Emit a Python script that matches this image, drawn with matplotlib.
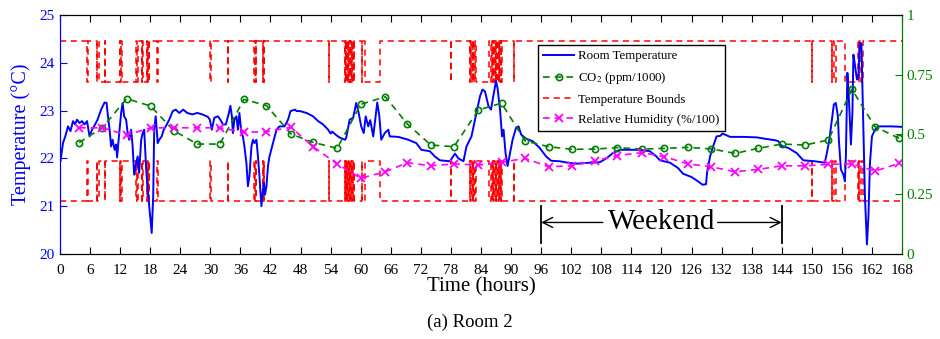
import matplotlib
matplotlib.use("Agg")
import matplotlib.pyplot as plt
from matplotlib.lines import Line2D

# Room temperature (hours, deg C)
temp_t = [0.0, 0.1, 0.6, 1.06, 1.6, 2.1, 2.6, 3.0, 3.4, 3.9, 4.4, 4.9, 5.4, 5.9, 6.4, 7.0, 7.5, 8.2,
          8.9, 9.3, 9.5, 9.9, 10.2, 10.5, 10.9, 11.2, 11.4, 11.7, 12.2, 12.5, 12.8, 13.2, 13.5, 13.8,
          14.2, 14.5, 14.8, 15.2, 15.5, 15.8, 16.2, 16.5, 16.8, 17.2, 17.5, 18.0, 18.3, 18.6, 18.8,
          19.1, 19.5, 19.8, 20.3, 20.7, 21.1, 21.8, 22.5, 23.1, 23.8, 24.6, 25.4, 26.4, 27.4, 28.4,
          29.5, 29.9, 30.3, 30.8, 31.5, 32.0, 32.5, 33.1, 33.7, 34.0, 34.3, 34.5, 34.8, 35.2, 35.5,
          35.8, 36.2, 36.5, 36.8, 37.2, 37.5, 37.8, 38.2, 38.5, 38.8, 39.2, 39.5, 39.8, 40.0, 40.2,
          40.5, 40.7, 40.9, 41.2, 41.5, 41.8, 42.5, 43.2, 43.8, 44.8, 45.5, 46.0, 46.9, 47.2, 47.9,
          49.2, 50.5, 51.5, 52.5, 53.5, 54.0, 54.3, 55.2, 55.9, 56.9, 57.1, 57.8, 58.5, 59.1, 59.5,
          60.1, 60.6, 61.0, 61.5, 61.9, 62.5, 63.0, 63.3, 63.7, 64.1, 64.8, 65.5, 65.8, 67.5, 69.5,
          71.1, 72.1, 73.8, 74.8, 75.8, 77.8, 78.8, 79.5, 80.5, 81.1, 82.1, 82.8, 83.8, 84.3, 84.8,
          85.5, 86.0, 86.5, 87.0, 87.3, 87.8, 88.2, 88.5, 88.9, 89.3, 89.8, 90.3, 91.0, 91.5, 92.0,
          93.0, 94.3, 95.7, 97.0, 98.0, 99.7, 101.3, 103.0, 105.7, 107.7, 109.0, 110.3, 111.7,
          115.7, 117.7, 119.0, 119.7, 121.7, 123.3, 124.3, 126.0, 127.3, 128.2, 128.9, 129.1,
          129.7, 130.3, 131.0, 131.7, 132.2, 133.7, 136.3, 139.0, 140.7, 142.7, 143.3, 144.0,
          145.3, 147.0, 148.3, 150.6, 152.6, 153.0, 153.5, 154.0, 154.4, 154.8, 155.2, 155.4,
          155.8, 156.3, 156.6, 156.8, 157.1, 157.3, 157.5, 157.8, 158.1, 158.3, 158.6, 159.0,
          159.3, 159.6, 159.9, 160.3, 160.6, 161.0, 161.3, 161.6, 162.0, 162.6, 163.3, 165.9, 167.9]
temp_val = [21.95, 21.94, 22.32, 22.46, 22.67, 22.57, 22.78, 22.71, 22.81, 22.74, 22.78, 22.71, 22.78,
            22.46, 22.6, 22.71, 22.81, 23.02, 23.17, 23.16, 22.95, 22.6, 22.25, 22.39, 22.18, 22.29,
            22.02, 22.39, 22.95, 23.16, 22.88, 22.81, 22.53, 22.39, 22.6, 22.25, 21.66, 21.9, 22.04,
            21.7, 22.39, 22.53, 22.6, 21.77, 21.35, 20.79, 20.44, 21.21, 22.6, 22.88, 22.32, 22.39,
            22.46, 22.6, 22.67, 22.81, 22.99, 23.02, 22.95, 23.02, 22.95, 22.92, 22.95, 22.92, 22.87,
            22.81, 22.6, 22.85, 22.88, 22.81, 22.71, 22.71, 22.95, 23.1, 22.88, 22.53, 22.81, 22.88,
            22.6, 22.95, 22.53, 22.46, 22.25, 21.9, 21.42, 21.63, 22.25, 22.39, 22.32, 22.39, 22.04,
            21.63, 21.28, 21.0, 21.35, 21.49, 21.24, 21.42, 21.84, 22.04, 22.32, 22.6, 22.67, 22.67,
            22.81, 22.99, 23.02, 22.99, 22.99, 22.95, 22.88, 22.78, 22.71, 22.6, 22.52, 22.56, 22.48,
            22.43, 22.39, 22.43, 22.81, 22.85, 23.16, 23.0, 22.67, 22.53, 22.88, 22.67, 22.8, 22.46,
            22.9, 23.17, 22.9, 22.39, 22.53, 22.6, 22.46, 22.45, 22.39, 22.32, 22.18, 22.15, 22.04,
            21.96, 21.94, 22.1, 22.0, 21.94, 22.25, 22.46, 22.81, 23.3, 23.44, 23.4, 23.09, 23.02,
            23.33, 23.62, 23.47, 23.02, 22.46, 22.6, 22.11, 21.84, 22.11, 22.39, 22.64, 22.67, 22.5,
            22.41, 22.36, 22.22, 22.04, 21.95, 21.94, 21.91, 21.89, 21.91, 21.92, 22.0, 22.11, 22.18,
            22.18, 22.15, 22.04, 21.96, 21.91, 21.8, 21.68, 21.61, 21.52, 21.45, 21.46, 21.7, 22.04,
            22.25, 22.46, 22.47, 22.52, 22.45, 22.45, 22.44, 22.41, 22.38, 22.36, 22.26, 22.22, 22.11,
            21.96, 21.94, 21.91, 22.11, 22.39, 22.81, 23.13, 23.16, 22.88, 22.39, 21.77, 21.66, 21.52,
            22.04, 23.79, 23.44, 23.02, 22.29, 22.95, 24.17, 23.96, 23.65, 23.72, 24.42, 24.4, 22.6,
            21.21, 20.2, 20.79, 21.9, 22.46, 22.6, 22.67, 22.67, 22.66]

# comfort bounds: wide when unoccupied, narrow while occupied
bound_wide = (21.1, 24.45)
bound_narrow = (21.95, 23.6)
narrow_periods = [(5.45, 5.55), (7.3, 7.4), (7.85, 8.95), (9.05, 11.95), (12.05, 12.15), (12.45, 15.2),
                  (15.4, 15.5), (16.3, 16.4), (16.5, 17.3), (17.45, 17.55), (17.7, 17.8), (19.45, 19.55),
                  (29.95, 30.05), (33.45, 33.55), (38.8, 38.9), (39.1, 39.2), (40.5, 40.6), (40.7, 40.8),
                  (53.6, 53.7), (56.8, 56.9), (57.0, 57.15), (57.3, 57.4), (57.55, 57.7), (57.85, 57.95),
                  (58.1, 58.2), (58.35, 58.5), (58.65, 58.75), (60.2, 60.3), (60.8, 63.8),
                  (77.95, 78.05), (81.8, 81.9), (82.1, 82.2), (82.4, 82.5), (82.7, 82.8), (83.1, 85.6),
                  (86.0, 86.1), (86.3, 86.4), (86.6, 86.7), (86.9, 87.0), (87.2, 87.3), (87.5, 87.6),
                  (87.8, 87.9), (88.05, 88.15), (90.5, 90.6),
                  (149.95, 150.05), (153.95, 154.1), (154.5, 154.9), (156.6, 159.2), (159.35, 159.5),
                  (159.9, 160.2)]

# CO2 (ppm/1000) and relative humidity (%/100), same sample times
sample_t = [3.8, 8.45, 13.3, 18.1, 22.7, 27.4, 31.9, 36.7, 41.2, 46.1, 50.5, 55.3, 60.0, 64.9, 69.3,
            74.0, 78.6, 83.5, 88.1, 92.8, 97.5, 102.1, 106.7, 111.2, 116.1, 120.6, 125.3, 129.9,
            134.7, 139.3, 144.0, 148.7, 153.3, 158.0, 162.6, 167.4]
co2 = [0.466, 0.528, 0.65, 0.619, 0.516, 0.46, 0.46, 0.647, 0.621, 0.502, 0.467, 0.442, 0.626, 0.658,
       0.544, 0.456, 0.449, 0.603, 0.631, 0.473, 0.449, 0.438, 0.439, 0.445, 0.439, 0.442, 0.446,
       0.44, 0.421, 0.442, 0.46, 0.456, 0.477, 0.689, 0.533, 0.484]
rh = [0.528, 0.528, 0.498, 0.528, 0.528, 0.528, 0.528, 0.509, 0.512, 0.53, 0.449, 0.377, 0.317,
      0.344, 0.382, 0.369, 0.377, 0.372, 0.384, 0.40, 0.365, 0.369, 0.389, 0.412, 0.424, 0.407,
      0.377, 0.365, 0.344, 0.354, 0.369, 0.369, 0.375, 0.377, 0.347, 0.379]

weekend = (96, 144)

plt.rcParams["font.family"] = ["Liberation Serif", "DejaVu Serif"]
plt.rcParams["mathtext.fontset"] = "stix"

# build the step series for the bounds
bt, lo, up = [0.0], [bound_wide[0]], [bound_wide[1]]
for a, b in narrow_periods:
    bt += [a, b]
    lo += [bound_narrow[0], bound_wide[0]]
    up += [bound_narrow[1], bound_wide[1]]
bt.append(168.0)
lo.append(bound_wide[0])
up.append(bound_wide[1])

dash = (0, (4, 3))
fig = plt.figure(figsize=(9.4, 3.39), dpi=100)
ax1 = fig.add_axes([0.0638, 0.2507, 0.8958, 0.7051])

ax1.plot(bt, up, color="red", ls=dash, lw=1.1, drawstyle="steps-post", zorder=2)
ax1.plot(bt, lo, color="red", ls=dash, lw=1.1, drawstyle="steps-post", zorder=2)
ax1.plot(temp_t, temp_val, color="blue", lw=1.4, zorder=3)

# weekend marker
y_arrow = 20.66
for w in weekend:
    ax1.plot([w, w], [20.22, 21.0], color="black", lw=1.3)
mid = sum(weekend) / 2
ax1.text(mid, y_arrow, "Weekend", fontsize=21, ha="center", va="center")
ax1.annotate("", xy=(weekend[0], y_arrow), xytext=(mid - 11.7, y_arrow),
             arrowprops=dict(arrowstyle="->", lw=1, color="black", shrinkA=0, shrinkB=0,
                             mutation_scale=18))
ax1.annotate("", xy=(weekend[1], y_arrow), xytext=(mid + 11.2, y_arrow),
             arrowprops=dict(arrowstyle="->", lw=1, color="black", shrinkA=0, shrinkB=0,
                             mutation_scale=18))

ax1.set_xlim(0, 168)
ax1.set_ylim(20, 25)
ax1.set_xticks(range(0, 169, 6))
ax1.set_yticks([20, 21, 22, 23, 24, 25])
ax1.tick_params(axis="x", direction="in", top=True, length=5, labelsize=11, pad=7)
ax1.tick_params(axis="y", direction="in", colors="blue", length=5, labelsize=11, pad=4)
ax1.set_xlabel("Time (hours)", fontsize=15, labelpad=0)
ax1.set_ylabel("Temperature (\u00b0C)", fontsize=14.5, color="blue", labelpad=6)

ax2 = ax1.twinx()
ax2.plot(sample_t, co2, color="green", ls=dash, lw=1.2, marker="o", ms=4.5, mfc="none", mew=1.2)
ax2.plot(sample_t, rh, color="magenta", ls=dash, lw=1.2, marker="x", ms=5.5, mew=1.3)
ax2.set_ylim(0, 1)
ax2.set_yticks([0, 0.25, 0.5, 0.75, 1])
ax2.set_yticklabels(["0", "0.25", "0.5", "0.75", "1"])
ax2.tick_params(axis="y", direction="in", colors="green", length=5, labelsize=11, pad=3)
ax2.spines["right"].set_color("green")
ax2.spines["left"].set_color("blue")

handles = [
    Line2D([], [], color="blue", lw=1.4),
    Line2D([], [], color="green", ls=dash, lw=1.2, marker="o", ms=4.5, mfc="none", mew=1.2),
    Line2D([], [], color="red", ls=dash, lw=1.1),
    Line2D([], [], color="magenta", ls=dash, lw=1.2, marker="x", ms=5.5, mew=1.3),
]
labels = ["Room Temperature", "CO$_2$ (ppm/1000)", "Temperature Bounds", "Relative Humidity (%/100)"]
leg = ax2.legend(handles, labels, loc="upper left", bbox_to_anchor=(0.568, 0.874), fontsize=9.3,
                 fancybox=False, edgecolor="black", framealpha=1, handlelength=2.4,
                 labelspacing=0.6, borderpad=0.4, handletextpad=0.3, borderaxespad=0)
leg.get_frame().set_linewidth(1.0)

fig.text(0.5, 0.05, "(a) Room 2", ha="center", va="center", fontsize=13.5)

fig.savefig("out.png", dpi=100)
